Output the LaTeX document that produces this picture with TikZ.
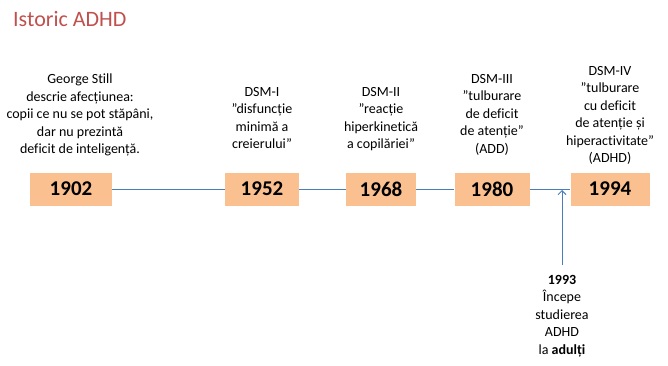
\documentclass[tikz,border=0pt]{standalone}
\usepackage{fontspec}
\setmainfont{Carlito}[Ligatures=NoCommon]
\usetikzlibrary{arrows.meta}

\definecolor{titlered}{HTML}{C0504D}
\definecolor{peach}{HTML}{FAC090}
\definecolor{lineblue}{HTML}{4A7EBB}

\tikzset{
  yearbox/.style={fill=peach, minimum height=33pt, inner sep=0pt, font=\fontsize{21}{25}\selectfont\bfseries},
  note/.style={align=center, inner sep=0pt, anchor=north, font=\fontsize{14}{17.5}\selectfont},
  link/.style={draw=lineblue, line width=0.9pt}
}

\begin{document}
\begin{tikzpicture}[x=1pt, y=-1pt]
        \useasboundingbox (0,0) rectangle (668,366);

        \node[anchor=base west, inner sep=0pt, text=titlered, font=\fontsize{22}{26}\selectfont] (title) at (13,27) {Istoric ADHD};

        % years on the time line
        \node[yearbox, minimum width=82pt] (y1902) at (71,189) {1902};
        \node[yearbox, minimum width=74pt] (y1952) at (262,189) {1952};
        \node[yearbox, minimum width=70pt] (y1968) at (381,189) {1968};
        \node[yearbox, minimum width=75pt] (y1980) at (492,189) {1980};
        \node[yearbox, minimum width=79pt] (y1994) at (610,189) {1994};

        \draw[link] (y1902) -- (y1952);
        \draw[link] (y1952) -- (y1968);
        \draw[link] (y1968) -- (y1980);
        \draw[link] (y1980) -- (y1994);

        % texts above the years
        \node[note] (n1902) at (80,74) {George Still\\descrie afecțiunea:\\copii ce nu se pot stăpâni,\\dar nu prezintă\\deficit de inteligență.};
        \node[note] (n1952) at (262,87) {DSM-I\\”disfuncție\\minimă a\\creierului”};
        \node[note] (n1968) at (381,87) {DSM-II\\”reacție\\hiperkinetică\\a copilăriei”};
        \node[note] (n1980) at (492,74) {DSM-III\\”tulburare\\de deficit\\de atenție”\\(ADD)};
        \node[note] (n1994) at (610,66) {DSM-IV\\”tulburare\\cu deficit\\de atenție și\\hiperactivitate”\\(ADHD)};

        % 1993 below the line
        \node[note] (n1993) at (562,275) {\textbf{1993}\\Începe\\studierea\\ADHD\\la \textbf{adulți}};
        \coordinate (hit) at (562,190);
        \draw[link, -{Straight Barb[length=4pt, width=8pt]}] ([yshift=10pt]n1993.north) -- (hit);
      \end{tikzpicture}
\end{document}
